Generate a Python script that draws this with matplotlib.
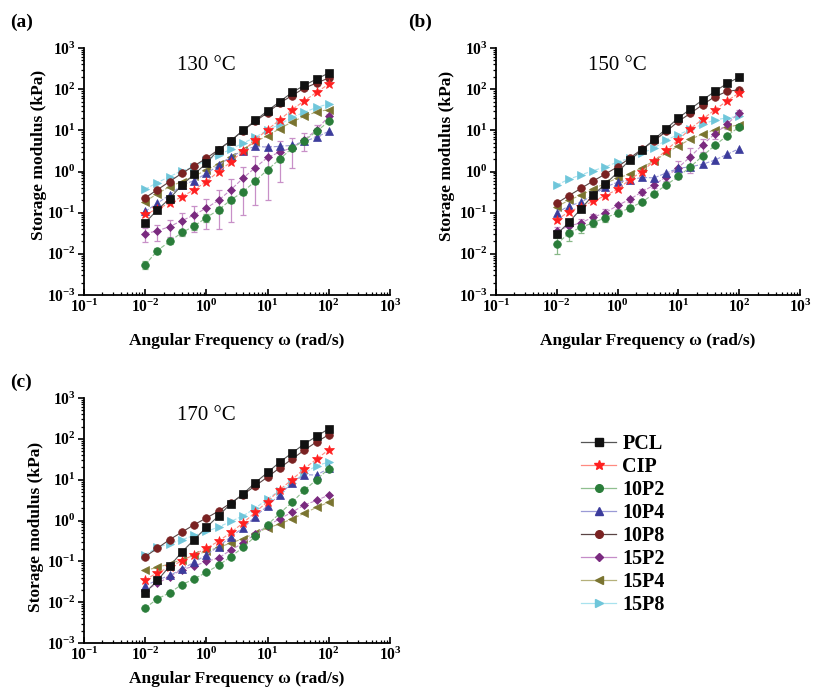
import matplotlib
matplotlib.use("Agg")
import matplotlib.pyplot as plt
from matplotlib.lines import Line2D
from matplotlib.ticker import LogLocator, FixedLocator, FixedFormatter, NullFormatter

plt.rcParams['font.family'] = ['Liberation Serif', 'DejaVu Serif']
plt.rcParams['mathtext.fontset'] = 'custom'
plt.rcParams['mathtext.rm'] = 'Liberation Serif'
plt.rcParams['mathtext.bf'] = 'Liberation Serif:bold'

# angular frequency (rad/s)
freq = [0.1, 0.158, 0.251, 0.398, 0.631, 1.0, 1.58, 2.51, 3.98, 6.31,
        10.0, 15.8, 25.1, 39.8, 63.1, 100.0]

# tick labels as printed on the original x axis
xtick_labels = [r"$\mathbf{10^{-1}}$", r"$\mathbf{10^{-2}}$", r"$\mathbf{10^{0}}$",
                r"$\mathbf{10^{1}}$", r"$\mathbf{10^{2}}$", r"$\mathbf{10^{3}}$"]
ytick_labels = [r"$\mathbf{10^{-3}}$", r"$\mathbf{10^{-2}}$", r"$\mathbf{10^{-1}}$",
                r"$\mathbf{10^{0}}$", r"$\mathbf{10^{1}}$", r"$\mathbf{10^{2}}$", r"$\mathbf{10^{3}}$"]

names = ["PCL", "CIP", "10P2", "10P4", "10P8", "15P2", "15P4", "15P8"]
temps = ["130 °C", "150 °C", "170 °C"]
panel_tags = ["(a)", "(b)", "(c)"]

# storage modulus (kPa), 130 C
pcl_130 = [0.057, 0.117, 0.22, 0.47, 0.85, 1.6, 3.4, 5.6, 10, 17.4, 30, 50, 83, 124, 176, 247]
cip_130 = [0.091, 0.123, 0.17, 0.245, 0.36, 0.57, 1.0, 1.7, 3.2, 5.9, 10.4, 18, 32, 52, 84, 133]
p10_2_130 = [0.0054, 0.012, 0.020, 0.033, 0.047, 0.076, 0.117, 0.205, 0.32, 0.59, 1.1, 2.0, 3.7, 5.6, 9.4, 16.5]
p10_4_130 = [0.107, 0.17, 0.27, 0.47, 0.6, 0.9, 1.4, 2.3, 3.2, 4.1, 3.9, 4.1, 4.3, 5.4, 6.8, 9.5]
p10_8_130 = [0.23, 0.36, 0.57, 0.91, 1.37, 2.1, 3.4, 5.6, 9.9, 16.6, 27, 46, 70, 106, 141, 187]
p15_2_130 = [0.031, 0.036, 0.046, 0.064, 0.088, 0.13, 0.20, 0.36, 0.69, 1.25, 2.2, 2.96, 3.8, 5.9, 10.3, 22]
p15_4_130 = [0.186, 0.29, 0.43, 0.57, 0.76, 1.1, 1.5, 2.2, 3.4, 5.3, 7.4, 11, 16, 22, 28, 32]
p15_8_130 = [0.37, 0.54, 0.75, 1.05, 1.3, 1.9, 2.5, 3.5, 4.9, 6.8, 10.2, 14, 20.6, 27.5, 36, 44]
err15_2_130 = [0.012, 0.015, 0.02, 0.035, 0.055, 0.09, 0.16, 0.3, 0.6, 1.1, 2.0, 2.4, 2.6, 2.8, 3.0, 3.0]
err10_2_130 = [0.0012, 0.002, 0.003, 0.006, 0.01, 0.015, 0.02, 0.03, 0.05, 0.08, 0.15, 0.3, 0.5, 0.7, 1.0, 1.5]

# storage modulus (kPa), 150 C
pcl_150 = [0.030, 0.058, 0.125, 0.27, 0.50, 0.95, 1.9, 3.3, 6.0, 11, 20, 33, 55, 88, 138, 195]
cip_150 = [0.066, 0.106, 0.14, 0.19, 0.26, 0.37, 0.63, 1.0, 1.8, 3.3, 5.9, 11, 18.7, 31.5, 52, 81]
p10_2_150 = [0.017, 0.032, 0.044, 0.057, 0.076, 0.097, 0.13, 0.18, 0.29, 0.47, 0.76, 1.3, 2.4, 4.3, 7.4, 12]
p10_4_150 = [0.10, 0.145, 0.18, 0.27, 0.42, 0.55, 0.62, 0.72, 0.70, 0.92, 1.2, 1.3, 1.5, 1.9, 2.6, 3.6]
p10_8_150 = [0.17, 0.26, 0.39, 0.59, 0.87, 1.3, 2.1, 3.5, 5.6, 9.4, 16.5, 26, 42, 66, 88, 97]
p15_2_150 = [0.036, 0.047, 0.057, 0.078, 0.10, 0.15, 0.21, 0.32, 0.47, 0.75, 1.25, 2.3, 4.5, 8.2, 14, 27]
p15_4_150 = [0.14, 0.20, 0.27, 0.37, 0.52, 0.69, 0.87, 1.25, 1.8, 2.8, 4.2, 6.1, 8.1, 10.3, 12, 13.6]
p15_8_150 = [0.47, 0.65, 0.83, 1.05, 1.3, 1.7, 2.1, 2.8, 3.7, 5.9, 7.8, 10.7, 14, 18, 20, 22]
err15_2_150 = [0.008, 0.01, 0.012, 0.015, 0.02, 0.025, 0.03, 0.05, 0.08, 0.15, 0.6, 1.4, 1.5, 2.0, 3.0, 4.0]
err10_2_150 = [0.007, 0.012, 0.012, 0.012, 0.015, 0.015, 0.02, 0.02, 0.03, 0.04, 0.06, 0.1, 0.2, 0.3, 0.6, 1.5]

# storage modulus (kPa), 170 C
pcl_170 = [0.017, 0.034, 0.076, 0.17, 0.34, 0.68, 1.3, 2.6, 4.5, 8.5, 15, 27, 45, 75, 115, 177]
cip_170 = [0.035, 0.053, 0.071, 0.104, 0.145, 0.21, 0.31, 0.51, 0.87, 1.6, 2.9, 5.7, 10, 18.6, 32, 54]
p10_2_170 = [0.0072, 0.012, 0.017, 0.027, 0.037, 0.054, 0.08, 0.13, 0.22, 0.41, 0.79, 1.5, 2.8, 5.5, 10, 18.6]
p10_4_170 = [0.025, 0.035, 0.045, 0.065, 0.095, 0.145, 0.23, 0.40, 0.66, 1.25, 2.3, 4.3, 8.3, 13.2, 13, 19]
p10_8_170 = [0.13, 0.21, 0.34, 0.52, 0.79, 1.15, 1.7, 2.7, 4.3, 7.1, 11.6, 19.5, 32, 53, 84, 126]
p15_2_170 = [0.019, 0.029, 0.042, 0.063, 0.076, 0.10, 0.12, 0.19, 0.28, 0.47, 0.75, 1.1, 1.6, 2.4, 3.1, 4.2]
p15_4_170 = [0.06, 0.071, 0.087, 0.11, 0.14, 0.175, 0.22, 0.28, 0.36, 0.49, 0.66, 0.82, 1.1, 1.5, 2.1, 2.8]
p15_8_170 = [0.145, 0.22, 0.27, 0.34, 0.43, 0.54, 0.69, 0.95, 1.3, 2.0, 3.4, 5.4, 8.5, 14.4, 22, 27]

series_130 = [pcl_130, cip_130, p10_2_130, p10_4_130, p10_8_130, p15_2_130, p15_4_130, p15_8_130]
series_150 = [pcl_150, cip_150, p10_2_150, p10_4_150, p10_8_150, p15_2_150, p15_4_150, p15_8_150]
series_170 = [pcl_170, cip_170, p10_2_170, p10_4_170, p10_8_170, p15_2_170, p15_4_170, p15_8_170]
errors = [{2: err10_2_130, 5: err15_2_130}, {2: err10_2_150, 5: err15_2_150}, {}]

# marker / line style per sample
mcolors = ["#111111", "#ff2020", "#2a7d3a", "#3c3c9c", "#7a2222", "#7a2a7f", "#7a7430", "#6fc6da"]
lcolors = ["#555555", "#ff8a80", "#8fbf8f", "#9a9ad6", "#5a4444", "#c58cc8", "#b5b07a", "#a8e2ee"]
ecolors = ["#888888", "#ff9a9a", "#88b888", "#9a9ad6", "#8a6a6a", "#c890c8", "#b5b07a", "#a8e2ee"]
markers = ["s", "*", "o", "^", "o", "D", "<", ">"]
msizes = [5.5, 7.5, 5.5, 5.5, 5.5, 4.5, 5.5, 5.5]
lstyles = ["-", "--", "--", "--", "-", "--", "--", "--"]

fig = plt.figure(figsize=(8.17, 6.89), dpi=100)
W, H = 817.0, 689.0
boxes = [(84, 48, 306, 247), (496, 48, 304, 247), (84, 398, 306, 245)]
tag_pos = [(10, 22), (408, 22), (10, 382)]
ylabel_xy = [(-0.122, 0.567), (-0.135, 0.563), (-0.13, 0.475)]
xlabel_pad = [12, 12, 5]

for k, data in enumerate([series_130, series_150, series_170]):
    x0, y0, w, h = boxes[k]
    ax = fig.add_axes([x0 / W, 1 - (y0 + h) / H, w / W, h / H])
    for j, vals in enumerate(data):
        err = errors[k].get(j)
        if err is not None:
            ax.errorbar(freq, vals, yerr=err, fmt="none", ecolor=ecolors[j],
                        elinewidth=0.9, capsize=2.5, capthick=0.9, zorder=2)
        ax.plot(freq, vals, color=lcolors[j], ls=lstyles[j], lw=0.8,
                marker=markers[j], ms=msizes[j], mfc=mcolors[j], mec=mcolors[j],
                mew=0.5, zorder=3 + (8 - j) * 0.1)
    ax.set_xscale("log")
    ax.set_yscale("log")
    ax.set_xlim(1e-2, 1e3)
    ax.set_ylim(1e-3, 1e3)
    ax.xaxis.set_major_locator(FixedLocator([1e-2, 1e-1, 1e0, 1e1, 1e2, 1e3]))
    ax.xaxis.set_major_formatter(FixedFormatter(xtick_labels))
    ax.xaxis.set_minor_locator(LogLocator(base=10, subs=range(2, 10), numticks=20))
    ax.xaxis.set_minor_formatter(NullFormatter())
    ax.yaxis.set_major_locator(FixedLocator([1e-3, 1e-2, 1e-1, 1e0, 1e1, 1e2, 1e3]))
    ax.yaxis.set_major_formatter(FixedFormatter(ytick_labels))
    ax.yaxis.set_minor_locator(LogLocator(base=10, subs=range(2, 10), numticks=20))
    ax.yaxis.set_minor_formatter(NullFormatter())
    for s in ["top", "right"]:
        ax.spines[s].set_visible(False)
    for s in ["left", "bottom"]:
        ax.spines[s].set_linewidth(1.3)
    ax.tick_params(axis="x", which="major", direction="in", length=4, width=1.2, pad=3)
    ax.tick_params(axis="x", which="minor", direction="in", length=2.5, width=0.9)
    ax.tick_params(axis="y", which="major", direction="out", length=4, width=1.2, pad=2)
    ax.tick_params(axis="y", which="minor", direction="out", length=2.5, width=0.9)
    for lab in ax.get_xticklabels() + ax.get_yticklabels():
        lab.set_fontsize(11.2)
    ax.set_ylabel("Storage modulus (kPa)", fontsize=12.5, fontweight="bold")
    ax.yaxis.set_label_coords(*ylabel_xy[k])
    ax.set_xlabel("Angular Frequency ω (rad/s)", fontsize=12.5, fontweight="bold",
                  labelpad=xlabel_pad[k])
    ax.text(0.4, 0.93, temps[k], transform=ax.transAxes, fontsize=15,
            ha="center", va="center")
    fig.text(tag_pos[k][0] / W, 1 - tag_pos[k][1] / H, panel_tags[k], fontsize=14,
             fontweight="bold", ha="left", va="center")

handles = [Line2D([], [], color=lcolors[j], lw=0.9, marker=markers[j], ms=msizes[j],
                  mfc=mcolors[j], mec=mcolors[j]) for j in range(len(names))]
fig.legend(handles, names, loc="upper left", bbox_to_anchor=(571 / W, 1 - 424 / H),
           frameon=False, prop={"family": "Liberation Serif", "weight": "bold", "size": 14.5},
           handlelength=1.75, handletextpad=0.3, labelspacing=0.15, borderpad=0)

fig.savefig("out.png", dpi=100)
